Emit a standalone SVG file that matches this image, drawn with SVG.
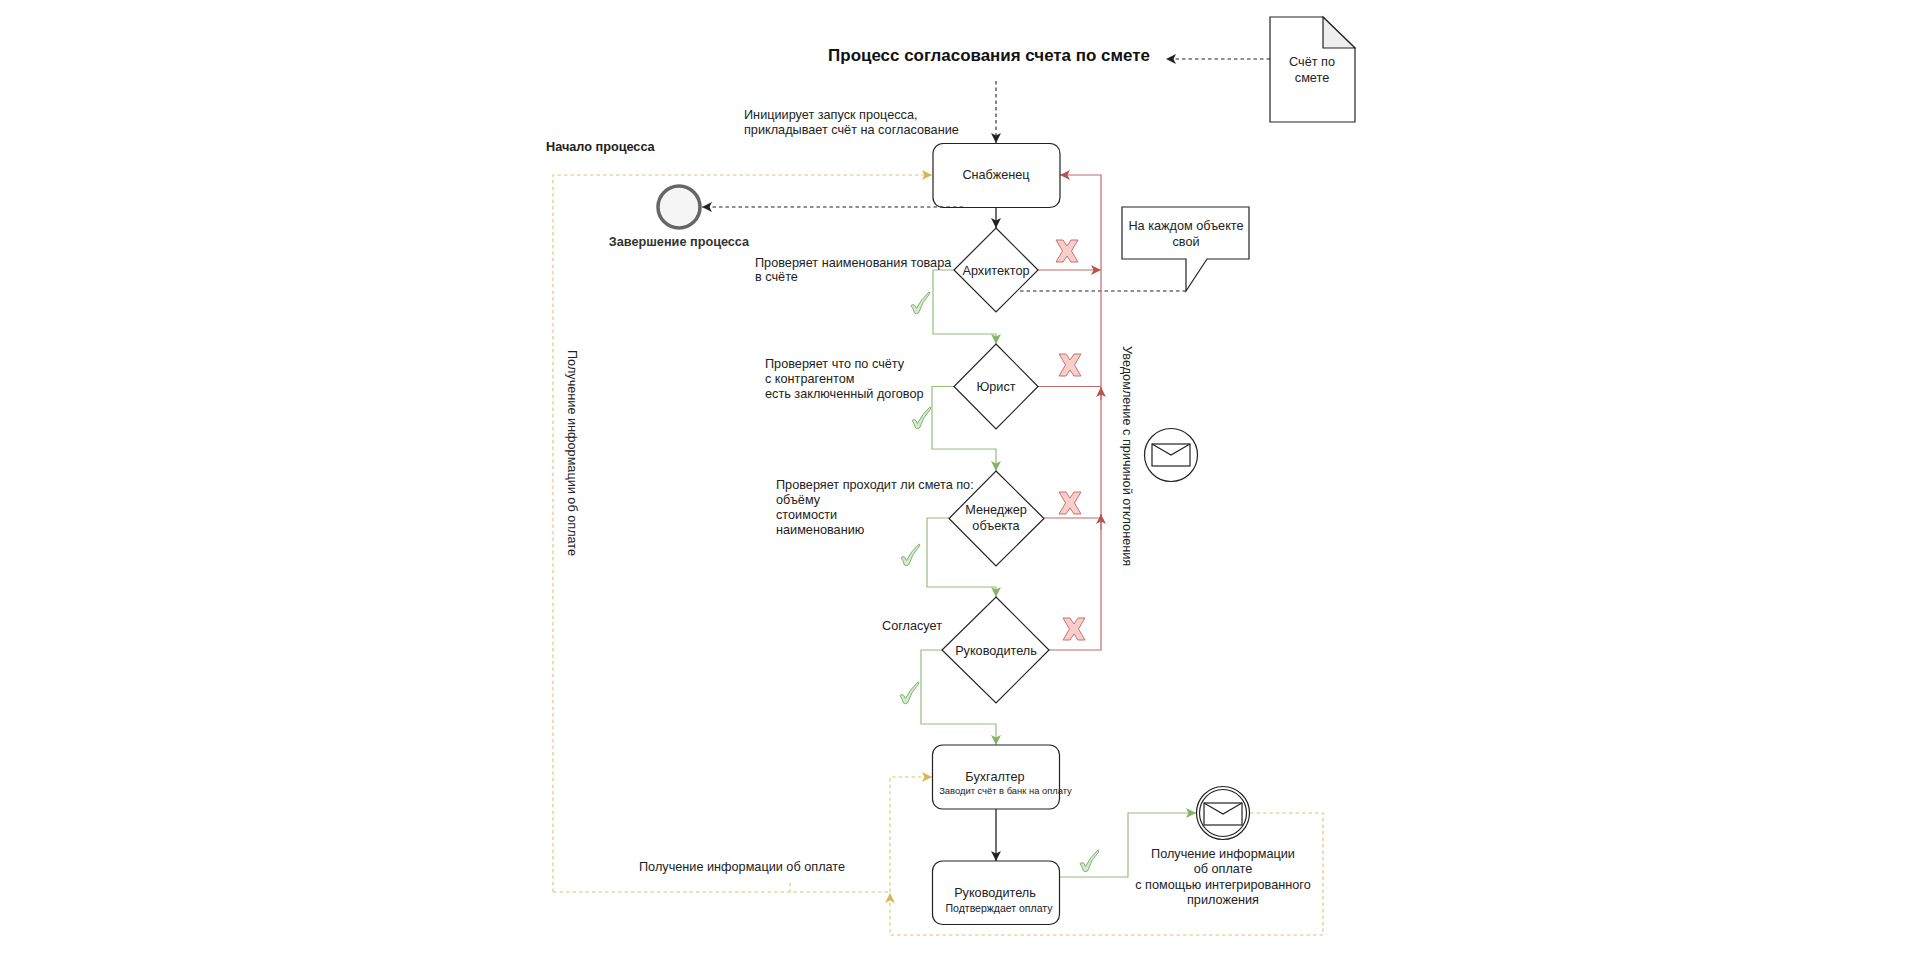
<svg xmlns="http://www.w3.org/2000/svg" width="1913" height="954" viewBox="0 0 1913 954">
<style>
text{font-family:"Liberation Sans",Arial,sans-serif;font-size:12.7px;fill:#222}
.m{text-anchor:middle}
.b{font-weight:bold}
.s{font-size:9.400px}
.s2{font-size:10.500px}
.shape{fill:#fff;stroke:#222;stroke-width:1.200}
.line{fill:none;stroke-width:1.100}
.k{stroke:#222;stroke-width:1.300}
.kd{stroke:#222;stroke-dasharray:3.500 3}
.g{stroke:#93bf7a;stroke-width:1.200}
.r{stroke:#c26a66;stroke-width:1.200}
.y{stroke:#dcc46e;stroke-dasharray:3.500 3}
.x{fill:#f8cecc;stroke:#c9716d;stroke-width:1}
.c{fill:#d5e8d4;stroke:#82b366;stroke-width:1}
</style>
<defs>
<marker id="ak" markerUnits="userSpaceOnUse" markerWidth="12" markerHeight="12" refX="10" refY="5.500" orient="auto"><path d="M0 0.500L10 5.500L0 10.500L2.500 5.500Z" fill="#222"/></marker>
<marker id="ag" markerUnits="userSpaceOnUse" markerWidth="12" markerHeight="12" refX="10" refY="5.500" orient="auto"><path d="M0 0.500L10 5.500L0 10.500L2.500 5.500Z" fill="#82b366"/></marker>
<marker id="ar" markerUnits="userSpaceOnUse" markerWidth="12" markerHeight="12" refX="10" refY="5.500" orient="auto"><path d="M0 0.500L10 5.500L0 10.500L2.500 5.500Z" fill="#b85450"/></marker>
<marker id="ay" markerUnits="userSpaceOnUse" markerWidth="12" markerHeight="12" refX="10" refY="5.500" orient="auto"><path d="M0 0.500L10 5.500L0 10.500L2.500 5.500Z" fill="#d6b656"/></marker>
<path id="xm" d="M-11-11L-4-11L0-5L4-11L11-11L4.500 0L11 11L4 11L0 5L-4 11L-11 11L-4.500 0Z"/>
<path id="ck" d="M-9 2.500Q-7 1-5.500 2L-3.500 5.500Q1-4 9-11Q10.500-11 9.500-9Q2-1-1.500 10Q-4 11.500-5.500 10Q-7 5-9 2.500Z"/>
<g id="env"><rect x="-19" y="-11" width="38" height="22" fill="#fff" stroke="#222" stroke-width="1.200"/><path d="M-19-11L0 0L19-11" fill="none" stroke="#222" stroke-width="1.200"/></g>
</defs>

<g id="connectors">
<path class="line y" d="M553 892V175H932" marker-end="url(#ay)"/>
<path class="line y" d="M553 892H890"/>
<path class="line y" d="M790 883V892"/>
<path class="line y" d="M890 892V777H932" marker-end="url(#ay)"/>
<path class="line y" d="M1250 813H1323V935H890V893" marker-end="url(#ay)"/>
<path class="line kd" d="M996 81V143" marker-end="url(#ak)"/>
<path class="line kd" d="M1270 59H1166" marker-end="url(#ak)"/>
<path class="line kd" d="M1186 291H1017"/>
<path class="line k" d="M996 207V228" marker-end="url(#ak)"/>
<path class="line k" d="M996 809V861" marker-end="url(#ak)"/>
<path class="line g" d="M954 270H933V334H996V344" marker-end="url(#ag)"/>
<path class="line g" d="M954 386.500H932V449H996V471" marker-end="url(#ag)"/>
<path class="line g" d="M949 518H927V587H996V597" marker-end="url(#ag)"/>
<path class="line g" d="M942 650H921V724H996V745" marker-end="url(#ag)"/>
<path class="line g" d="M1059 877H1128V813H1196" marker-end="url(#ag)"/>
<path class="line r" d="M1049 650H1101V175H1060" marker-end="url(#ar)"/>
<path class="line r" d="M1038 270H1101" marker-end="url(#ar)"/>
<path class="line r" d="M1038 386.500H1101" />
<path class="line r" d="M1044 518H1101"/>
<path class="line r" d="M1101 400V387" marker-end="url(#ar)"/>
<path class="line r" d="M1101 530V514" marker-end="url(#ar)"/>
</g>

<g id="doc">
<path class="shape" d="M1270 17H1323L1355 48V122H1270Z"/>
<path d="M1323 17L1355 48H1323Z" fill="#eee" stroke="#222" stroke-width="1.200"/>
<text class="m" x="1312" y="66">Счёт по</text><text class="m" x="1312" y="82">смете</text>
</g>
<g id="title"><text class="m b" x="989" y="61" style="font-size:16.950px;fill:#111">Процесс согласования счета по смете</text></g>
<g id="snab"><rect class="shape" x="933" y="143.500" width="127" height="64" rx="10"/><text class="m" x="996" y="179">Снабженец</text></g>
<g id="arch"><path class="shape" d="M996 228L1038 270L996 312L954 270Z"/><text class="m" x="996" y="274.500">Архитектор</text></g>
<g id="jur"><path class="shape" d="M996 344L1038 386.500L996 429L954 386.500Z"/><text class="m" x="996" y="391">Юрист</text></g>
<g id="man"><path class="shape" d="M996 471L1044 518.500L996 566L949 518.500Z"/><text class="m" x="996" y="514">Менеджер</text><text class="m" x="996" y="530">объекта</text></g>
<g id="ruk"><path class="shape" d="M996 597L1049 650L996 703L942 650Z"/><text class="m" x="996" y="654.500">Руководитель</text></g>
<g id="buh"><rect class="shape" x="932.500" y="745" width="127" height="64" rx="10"/><text class="m" x="995" y="781">Бухгалтер</text><text class="m s" x="1005.500" y="794">Заводит счёт в банк на оплату</text></g>
<g id="ruk2"><rect class="shape" x="932.500" y="861" width="127" height="63.500" rx="10"/><text class="m" x="995" y="897">Руководитель</text><text class="m s2" x="999" y="912">Подтверждает оплату</text></g>
<g id="end"><circle cx="679" cy="207" r="21" fill="#f5f5f5" stroke="#666" stroke-width="3.500"/><text class="m b" x="679" y="246" style="fill:#333">Завершение процесса</text></g>
<path class="line kd" d="M963 207H702" marker-end="url(#ak)"/>
<g id="callout"><path class="shape" d="M1122 207H1249V259H1207L1186 291V259H1122Z"/><text class="m" x="1186" y="230">На каждом объекте</text><text class="m" x="1186" y="246">свой</text></g>
<g id="mail1"><circle cx="1171" cy="455" r="26.500" fill="#fff" stroke="#222" stroke-width="1.200"/><use href="#env" x="1171" y="455"/></g>
<g id="mail2"><circle cx="1223" cy="813" r="26.500" fill="#fff" stroke="#222" stroke-width="1.200"/><circle cx="1223" cy="813" r="23.500" fill="#fff" stroke="#222" stroke-width="1.200"/><use href="#env" x="1223" y="814"/>
<text class="m" x="1223" y="858">Получение информации</text><text class="m" x="1223" y="873">об оплате</text><text class="m" x="1223" y="889">с помощью интегрированного</text><text class="m" x="1223" y="904">приложения</text></g>

<g id="labels">
<text class="b" x="546" y="151">Начало процесса</text>
<text x="744" y="119">Инициирует запуск процесса,</text><text x="744" y="134">прикладывает счёт на согласование</text>
<text x="755" y="267">Проверяет наименования товара</text><text x="755" y="281">в счёте</text>
<text x="765" y="368">Проверяет что по счёту</text><text x="765" y="383">с контрагентом</text><text x="765" y="398">есть заключенный договор</text>
<text x="776" y="489">Проверяет проходит ли смета по:</text><text x="776" y="504">объёму</text><text x="776" y="519">стоимости</text><text x="776" y="534">наименованию</text>
<text x="882" y="630">Согласует</text>
<text x="639" y="871">Получение информации об оплате</text>
<text transform="translate(1122.500 346) rotate(90)">Уведомление с причиной отклонения</text>
<text transform="translate(568 350) rotate(90)">Получение информации об оплате</text>
</g>
<g id="marks">
<use href="#xm" class="x" x="1067" y="251"/><use href="#xm" class="x" x="1070" y="365"/><use href="#xm" class="x" x="1070" y="503"/><use href="#xm" class="x" x="1074" y="629"/>
<use href="#ck" class="c" x="920" y="303"/><use href="#ck" class="c" x="921" y="418"/><use href="#ck" class="c" x="910" y="555"/><use href="#ck" class="c" x="909" y="693"/><use href="#ck" class="c" x="1089" y="861"/>
</g>
</svg>
